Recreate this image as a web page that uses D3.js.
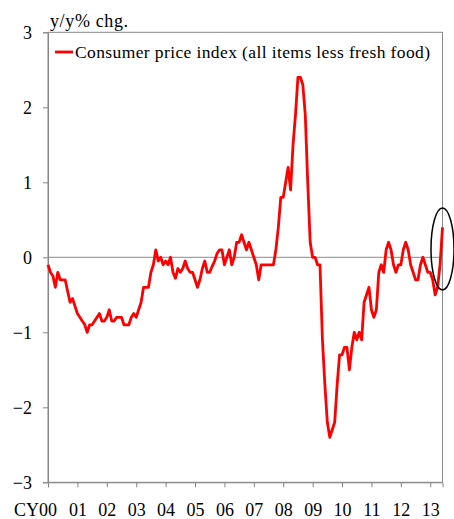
<!DOCTYPE html>
<html>
<head>
<meta charset="utf-8">
<script src="https://cdn.jsdelivr.net/npm/d3@7"></script>
<style>
  html, body { margin: 0; padding: 0; background: #fff; }
  svg { display: block; }
  text { font-family: "Liberation Serif", "Times New Roman", serif; fill: #000; }
</style>
</head>
<body>
<svg id="chart" width="454" height="519"></svg>
<script>
// ---- data (monthly, Jan 2000 .. Jun 2013) ----
const yearLabels = ["CY00","01","02","03","04","05","06","07","08","09","10","11","12","13"];
const yTicks = [-3, -2, -1, 0, 1, 2, 3];
const seriesName = "Consumer price index (all items less fresh food)";
const unitLabel = "y/y% chg.";
const cpi = [
  -0.1, -0.2, -0.25, -0.4, -0.2, -0.3, -0.3, -0.3, -0.45, -0.6, -0.55, -0.65,   // 2000
  -0.75, -0.8, -0.85, -0.9, -1.0, -0.9, -0.9, -0.85, -0.8, -0.75, -0.85, -0.85, // 2001
  -0.8, -0.7, -0.85, -0.85, -0.8, -0.8, -0.8, -0.9, -0.9, -0.9, -0.8, -0.75,    // 2002
  -0.8, -0.7, -0.6, -0.4, -0.4, -0.4, -0.2, -0.1, 0.1, -0.05, 0.0, -0.1,         // 2003
  -0.05, -0.1, 0.0, -0.2, -0.28, -0.15, -0.2, -0.15, -0.05, -0.15, -0.2, -0.2,  // 2004
  -0.3, -0.4, -0.3, -0.15, -0.05, -0.2, -0.2, -0.12, -0.05, 0.05, 0.1, 0.1,     // 2005
  -0.1, 0.0, 0.1, -0.1, 0.0, 0.2, 0.2, 0.3, 0.2, 0.1, 0.2, 0.1,                 // 2006
  0.0, -0.1, -0.3, -0.1, -0.1, -0.1, -0.1, -0.1, -0.1, 0.1, 0.4, 0.8,           // 2007
  0.8, 1.0, 1.2, 0.9, 1.5, 1.9, 2.4, 2.4, 2.3, 1.9, 1.0, 0.2,                   // 2008
  0.0, 0.0, -0.1, -0.1, -1.1, -1.7, -2.2, -2.4, -2.3, -2.2, -1.7, -1.3,         // 2009
  -1.3, -1.2, -1.2, -1.5, -1.2, -1.0, -1.1, -1.0, -1.1, -0.6, -0.5, -0.4,       // 2010
  -0.7, -0.8, -0.7, -0.2, -0.1, -0.2, 0.1, 0.2, 0.1, -0.1, -0.2, -0.1,          // 2011
  -0.1, 0.1, 0.2, 0.1, -0.1, -0.2, -0.3, -0.3, -0.1, 0.0, -0.1, -0.2,           // 2012
  -0.2, -0.3, -0.5, -0.4, -0.1, 0.4                                             // 2013
];

// ---- layout ----
const svg = d3.select("#chart");
const plotL = 48, plotR = 442.5, plotT = 32.3, plotB = 482.3;
const axisColor = "#868686";

const x = d3.scaleLinear().domain([0, cpi.length - 1]).range([plotL, plotR]);
const y = d3.scaleLinear().domain([-3, 3]).range([plotB, plotT]);

// frame
svg.append("rect")
  .attr("x", plotL).attr("y", plotT)
  .attr("width", plotR - plotL).attr("height", plotB - plotT)
  .attr("fill", "none").attr("stroke", axisColor).attr("stroke-width", 1);

// zero line
svg.append("line")
  .attr("x1", plotL).attr("x2", plotR)
  .attr("y1", y(0)).attr("y2", y(0))
  .attr("stroke", "#a0a0a0").attr("stroke-width", 1.3);

// y axis
const yAxis = svg.append("g")
  .attr("transform", `translate(${plotL},0)`)
  .call(d3.axisLeft(y).tickValues(yTicks).tickSize(5).tickPadding(11).tickFormat(d3.format("d")));
yAxis.select(".domain").attr("stroke", axisColor);
yAxis.selectAll(".tick line").attr("stroke", axisColor);
yAxis.selectAll(".tick text")
  .style("font-family", '"Liberation Serif", serif')
  .style("font-size", "18px").attr("fill", "#000");

// x axis
const xTickIdx = yearLabels.map((_, i) => i * 12);
const xAxis = svg.append("g")
  .attr("transform", `translate(0,${plotB})`)
  .call(d3.axisBottom(x).tickValues(xTickIdx).tickSize(5).tickPadding(16)
        .tickFormat((d, i) => yearLabels[i]));
xAxis.select(".domain").attr("stroke", axisColor);
xAxis.selectAll(".tick line").attr("stroke", axisColor);
xAxis.selectAll(".tick text")
  .style("font-family", '"Liberation Serif", serif')
  .style("font-size", "18px").attr("fill", "#000")
  .attr("dx", (d, i) => i === 0 ? -13 : 0);

// series line
const line = d3.line().x((d, i) => x(i)).y(d => y(d));
svg.append("path")
  .datum(cpi)
  .attr("d", line)
  .attr("fill", "none")
  .attr("stroke", "#ff0000")
  .attr("stroke-width", 2.8)
  .attr("stroke-linejoin", "round");

// unit label
svg.append("text")
  .attr("x", 50).attr("y", 27)
  .style("font-size", "18px")
  .attr("textLength", 78).attr("lengthAdjust", "spacing")
  .text(unitLabel);

// legend
svg.append("line")
  .attr("x1", 55).attr("x2", 73).attr("y1", 52).attr("y2", 52)
  .attr("stroke", "#ff0000").attr("stroke-width", 2.8);
svg.append("text")
  .attr("x", 75).attr("y", 58)
  .style("font-size", "17.5px")
  .attr("textLength", 355).attr("lengthAdjust", "spacing")
  .text(seriesName);

// highlight ellipse
svg.append("ellipse")
  .attr("cx", x(cpi.length - 1)).attr("cy", 249)
  .attr("rx", 11.5).attr("ry", 41)
  .attr("fill", "none").attr("stroke", "#000").attr("stroke-width", 1.5);
</script>
</body>
</html>
